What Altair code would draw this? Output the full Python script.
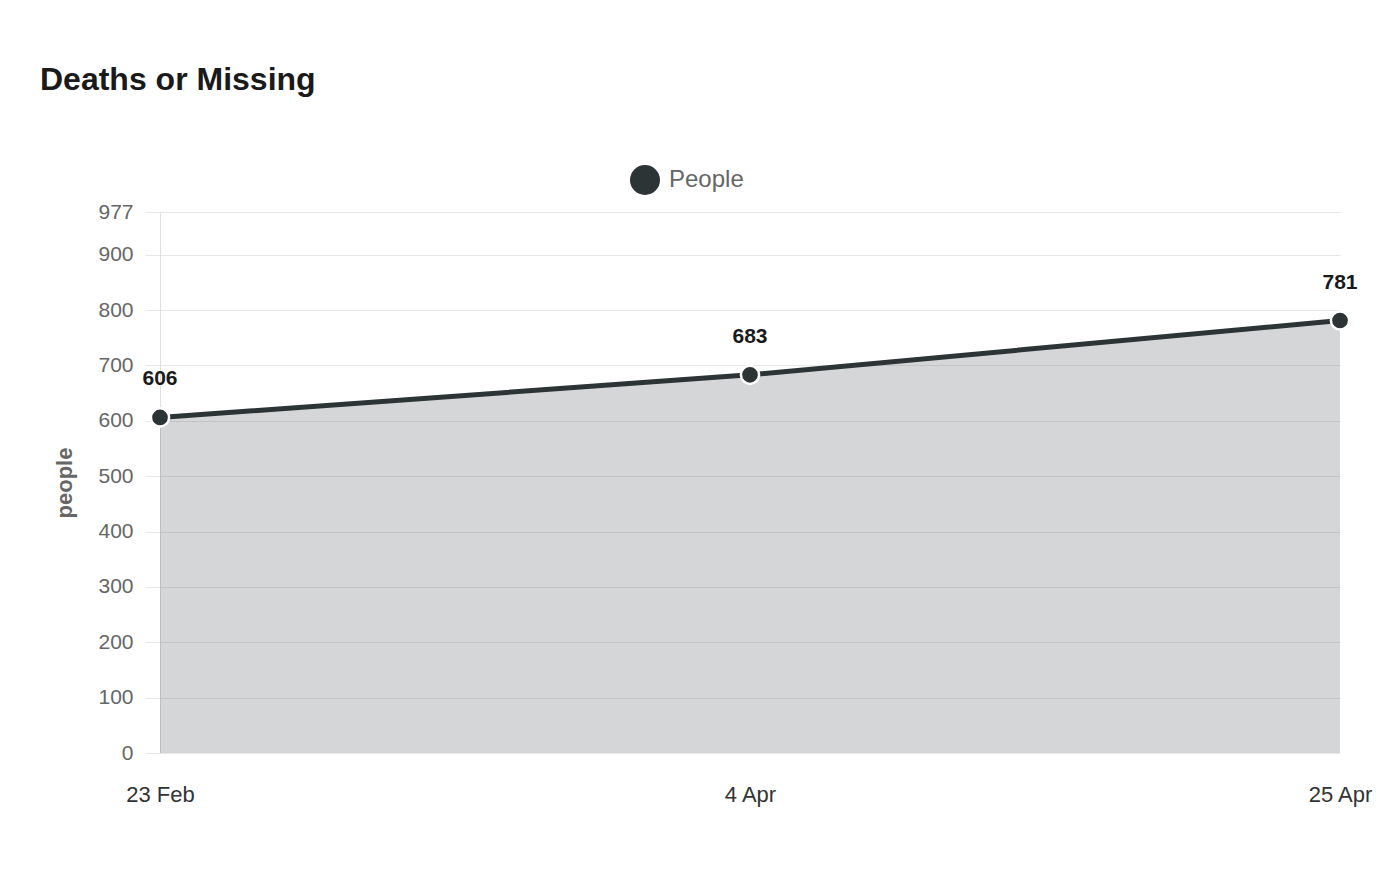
import altair as alt
import pandas as pd

dates = ["23 Feb", "4 Apr", "25 Apr"]
people = [606, 683, 781]
series = ["People", "People", "People"]
y_ticks = [0, 100, 200, 300, 400, 500, 600, 700, 800, 900, 977]

df = pd.DataFrame({"date": dates, "people": people, "series": series})

DARK = "#2d3436"
FONT = "Liberation Sans"

x = alt.X("date:N", sort=dates, scale=alt.Scale(type="point", padding=0),
          axis=alt.Axis(title=None, labelAngle=0, ticks=False, domain=False, grid=False,
                        labelPadding=31, labelFontSize=22, labelColor="#333333", labelFont=FONT))
y = alt.Y("people:Q", scale=alt.Scale(domain=[0, 977], nice=False),
          axis=alt.Axis(values=y_ticks, title="people", titleFontSize=22, titleFontWeight="bold",
                        titleColor="#666666", titleFont=FONT, titlePadding=21,
                        labelFontSize=21, labelColor="#666666", labelFont=FONT, labelPadding=12,
                        tickSize=15, tickColor="#e8e8e8", gridColor="#e8e8e8",
                        domainColor="#e0e0e0", labelOverlap=False))

base = alt.Chart(df)

area = base.mark_area(color=DARK, opacity=0.2).encode(x=x, y=y)
line = base.mark_line(color=DARK, strokeWidth=5).encode(x=x, y=y)
points = base.mark_point(filled=True, size=330, stroke="white", strokeWidth=2.5, opacity=1,
                         shape="circle").encode(
    x=x, y=y,
    color=alt.Color("series:N", scale=alt.Scale(range=[DARK]),
                    legend=alt.Legend(title=None, orient="none", legendX=470, legendY=-47,
                                      symbolSize=900, symbolType="circle", symbolStrokeWidth=0,
                                      symbolOpacity=1, labelFontSize=24, labelColor="#666666",
                                      labelFont=FONT, labelOffset=9, padding=0)))
labels = base.mark_text(fontSize=21, fontWeight="bold", color="#1a1a1a", dy=-38,
                        baseline="middle", font=FONT).encode(x=x, y=y, text="people:Q")

chart = alt.layer(area, line, points, labels).properties(
    width=1180, height=541,
    title=alt.TitleParams("Deaths or Missing", anchor="start", frame="group", dx=-120,
                          offset=68, fontSize=32, font=FONT, fontWeight="bold", color="#1a1a1a"),
    autosize=alt.AutoSizeParams(type="none"),
    padding={"left": 152, "top": 204, "right": 52, "bottom": 119},
).configure_view(stroke=None)

chart.save("out.html", embed_options={"renderer": "svg", "actions": False})
